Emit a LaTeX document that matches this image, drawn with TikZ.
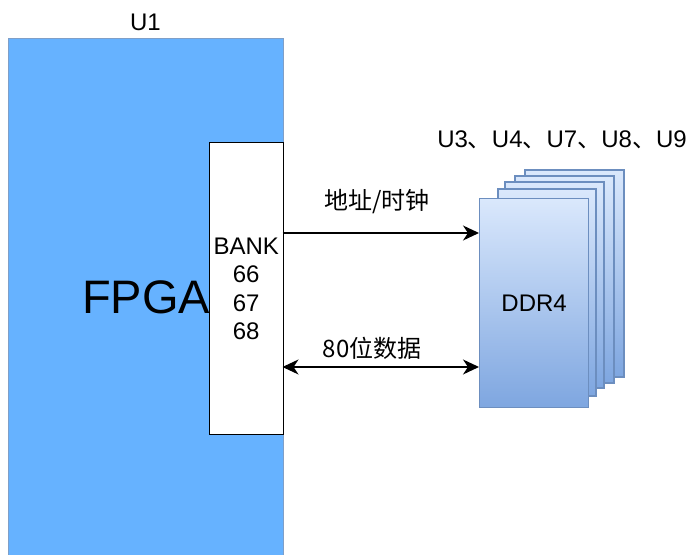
\documentclass[tikz,border=0pt]{standalone}
\usepackage{fontspec}
\setmainfont{Liberation Sans}
\newfontfamily\cjk{Noto Sans CJK SC}
\usetikzlibrary{arrows.meta}

\definecolor{fpgablue}{HTML}{66B2FF}
\definecolor{fpgaline}{HTML}{7F9FC8}
\definecolor{ddrtop}{HTML}{DAE8FC}
\definecolor{ddrbot}{HTML}{7EA6E0}
\definecolor{ddrline}{HTML}{6C8EBF}

\tikzset{
  chip/.style={draw=ddrline, line width=0.6pt, top color=ddrtop, bottom color=ddrbot},
  sig/.style={line width=0.75pt},
  txt/.style={font=\fontsize{12}{14.25}\selectfont, inner sep=0pt},
  >={Stealth[length=8pt,width=7.5pt,inset=2.5pt]},
}

\begin{document}
\begin{tikzpicture}[x=0.5pt,y=-0.5pt]
        \useasboundingbox (0,0) rectangle (687,555);

        % FPGA
        \node[draw=fpgaline, fill=fpgablue, line width=0.6pt, inner sep=0pt,
              minimum width=137.5pt, minimum height=259pt, anchor=north west,
              font=\fontsize{23.5}{28}\selectfont] (fpga) at (8,38) {FPGA};
        \node[txt] (u1) at (145.5,22) {U1};

        % Bank
        \node[txt, draw, fill=white, line width=0.75pt, align=center,
              minimum width=37pt, minimum height=146pt, anchor=north west] (bank) at (208.5,142) {BANK\\66\\67\\68};

        % DDR4 stack
        \foreach \xa/\ya/\xb/\yb in {525/170/624/377, 515/176/614/383, 505/182/604/388, 498/189/596/396}
            \draw[chip] (\xa,\ya) rectangle (\xb,\yb);
        \node[txt, chip, minimum width=54.5pt, minimum height=104.5pt, anchor=north west] (ddr) at (479,198) {DDR4};
        \node[txt] (ulist) at (562,140) {U3{\cjk 、}U4{\cjk 、}U7{\cjk 、}U8{\cjk 、}U9};

        % Signals
        \coordinate (addr) at (282.5,233);
        \coordinate (data) at (282.5,367);
        \draw[sig, ->] (addr) -- (addr -| ddr.west);
        \draw[sig, <->] (data) -- (data -| ddr.west);
        \node[txt] (addrlbl) at (377,202) {\cjk 地址/时钟};
        \node[txt] (datalbl) at (372,348) {\cjk 80位数据};
\end{tikzpicture}
\end{document}
